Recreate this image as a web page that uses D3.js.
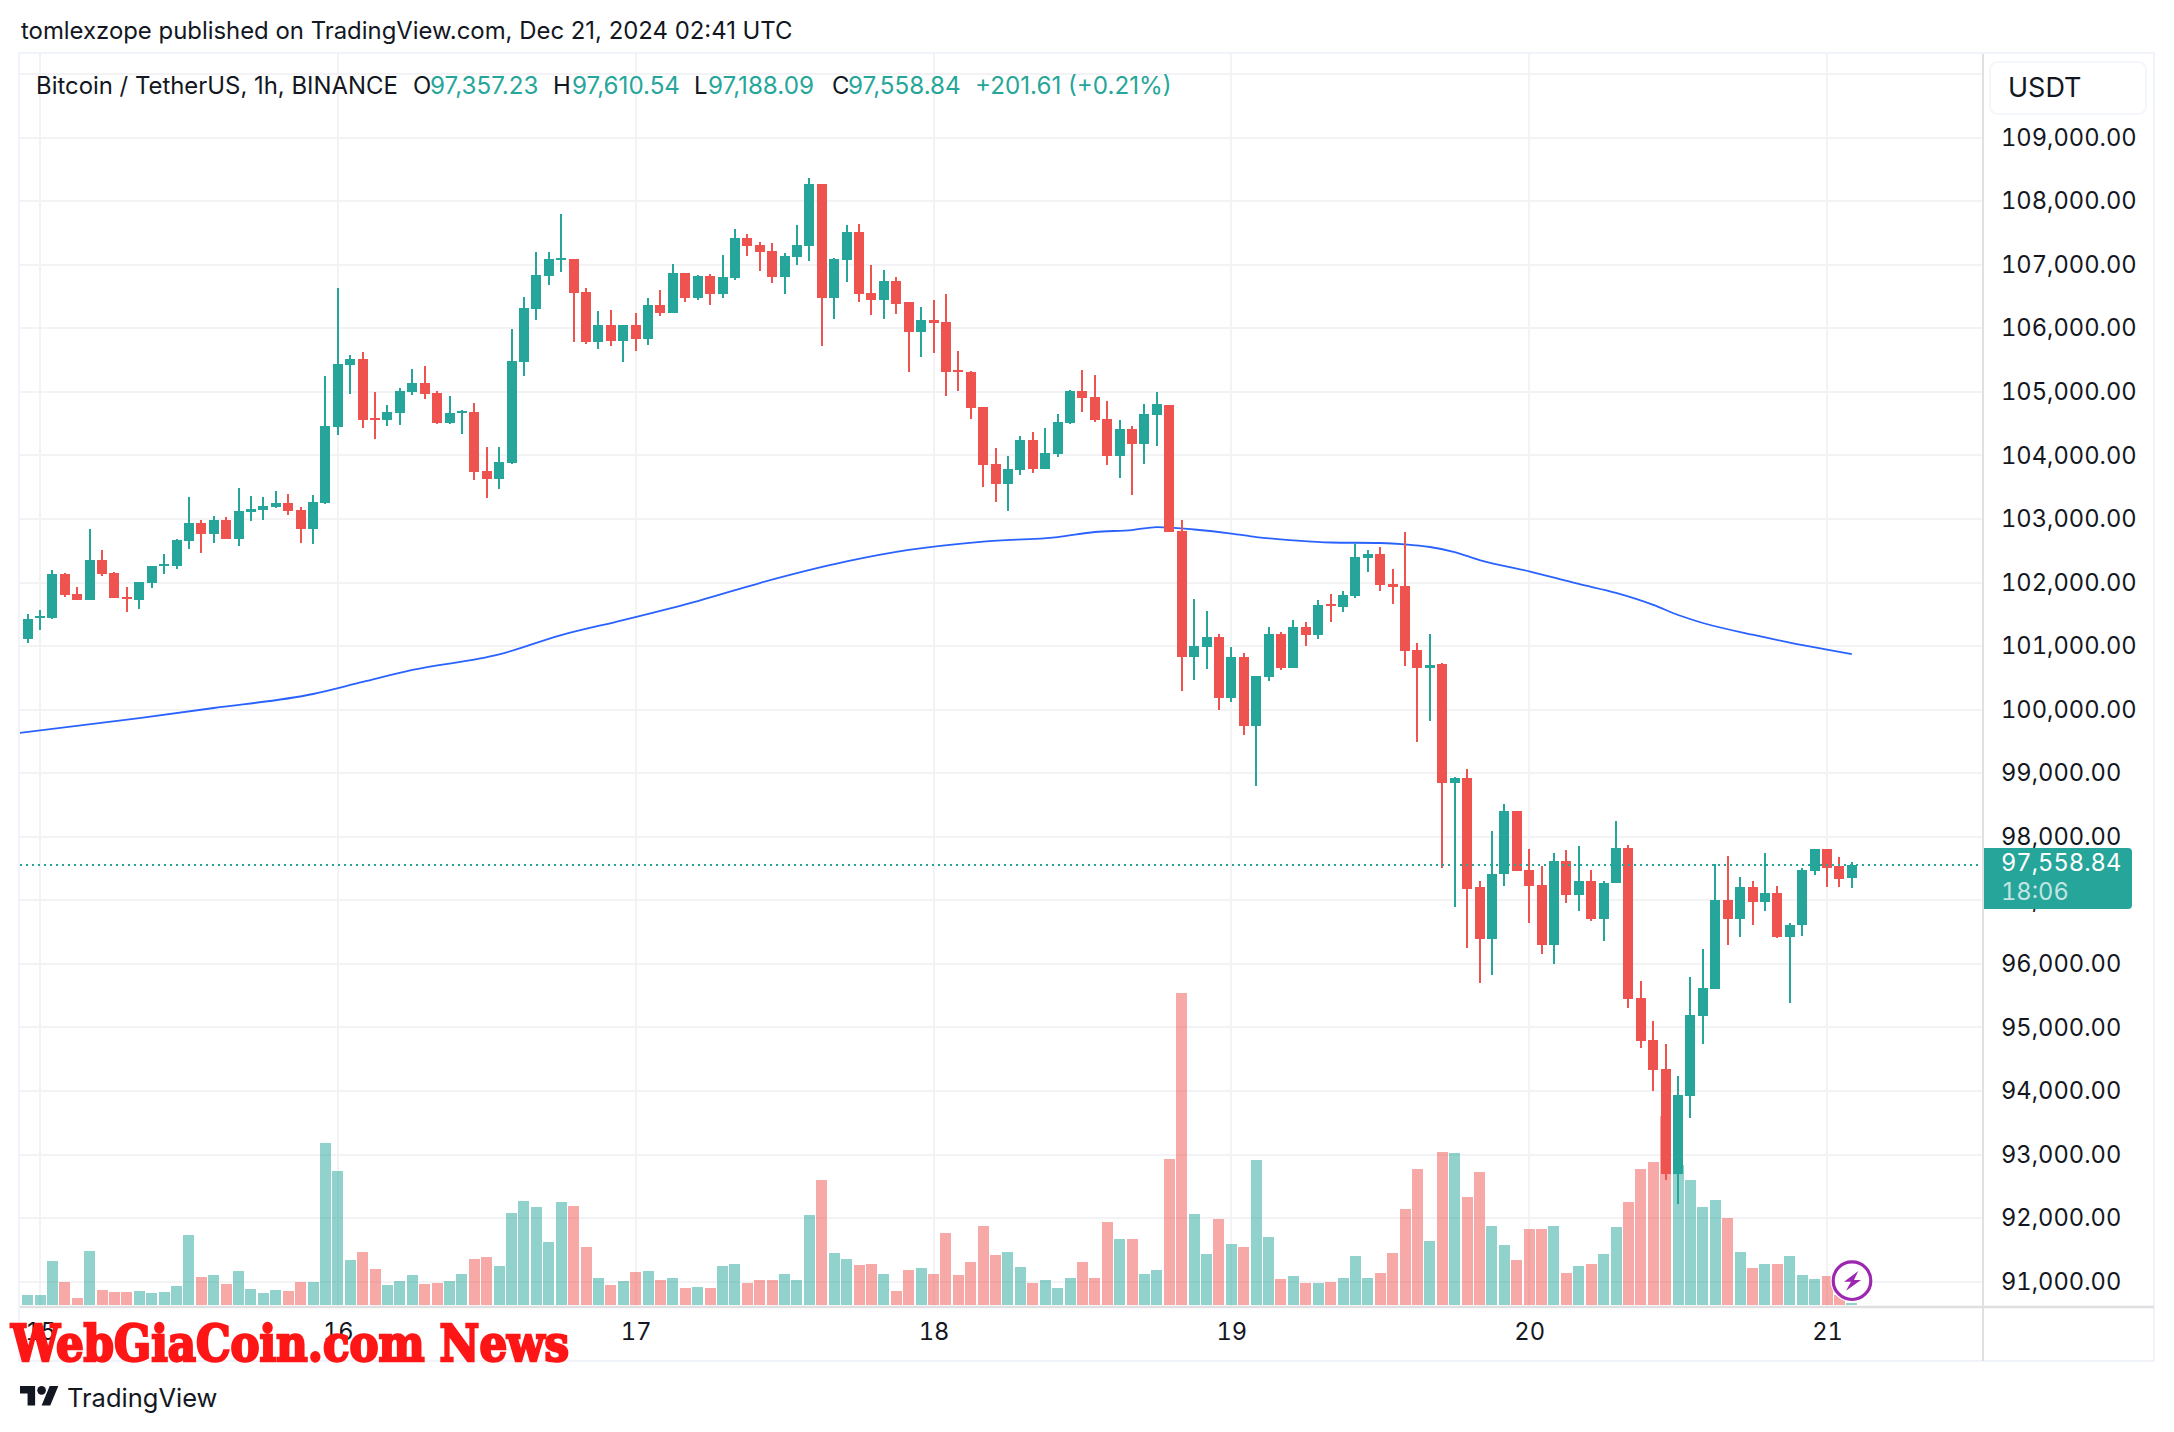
<!DOCTYPE html>
<html>
<head>
<meta charset="utf-8">
<title>Bitcoin / TetherUS, 1h, BINANCE</title>
<script src="https://cdn.jsdelivr.net/npm/d3@7"></script>
<style>
    html, body { margin: 0; padding: 0; background: #fff; }
    svg { display: block; }
    text { font-family: Inter, "Noto Sans", sans-serif; fill: #131722; }
    .nums { font-variant-numeric: tabular-nums; }
</style>
</head>
<body>
<svg width="2174" height="1432"></svg>
<script>
// hourly candles, first one is Dec 14 23:00 UTC
var opens = [
    101109,101437,101437,102141,101828,101719,102359,102156,101781,101719,102000,102266,
    102266,102656,102938,102766,102985,102688,103110,103141,103188,103250,103141,102844,
    103252,104451,105429,105523,104593,104561,104672,105003,105145,104987,104514,104672,
    104688,103757,103631,103883,105476,106312,106817,107069,107085,106580,105792,106060,
    105807,106060,105839,106375,106249,106864,106485,106817,106533,106785,107416,107305,
    107211,106801,107116,107290,108268,106470,107069,107511,106549,106454,106738,106407,
    105949,106138,106107,105350,105318,104764,103868,103554,103774,104245,103790,104025,
    104513,105016,104921,104576,103994,104418,104183,104638,104796,102815,100834,100991,
    101149,100190,100834,99750,100520,101196,100661,101306,101180,101667,101620,101793,
    102390,102453,101982,101950,100944,100661,100712,98842,98933,97204,96395,97408,
    98399,97471,97246,96304,97626,97091,97309,96712,97267,97830,95467,94807,
    94350,92698,93928,95186,95608,97000,96712,97204,96979,97120,96431,96606,
    97457,97801,97534,97357.23
];
var highs = [
    101500,101562,102203,102156,101937,102844,102516,102172,101937,102016,102266,102453,
    102688,103344,102985,103047,103031,103485,103360,103344,103438,103391,103188,103375,
    105255,106643,105586,105634,105003,104798,105066,105366,105413,105019,104940,104719,
    104829,104136,104136,105996,106501,107195,107195,107794,107085,106643,106280,106296,
    106060,106249,106470,106596,107006,106864,106832,106848,107148,107558,107479,107353,
    107337,107179,107621,108362,108268,107100,107621,107637,106990,106911,106801,106422,
    106344,106454,106533,105650,105334,104764,104120,103994,104308,104371,104434,104654,
    105031,105346,105267,104859,104560,104466,104811,105000,104796,102988,101746,101557,
    101196,100991,100897,100536,101306,101227,101416,101384,101730,101825,101872,102626,
    102516,102563,102218,102799,101054,101196,100740,98947,99060,97309,98097,98511,
    98399,97815,97548,97738,97787,97851,97485,97309,98244,97865,95735,95109,
    94743,94244,95798,96241,97569,97703,97373,97309,97752,97232,96648,97506,
    97815,97815,97675,97610.54
];
var lows = [
    101047,101250,101422,101781,101719,101719,102109,101750,101531,101578,101922,102141,
    102219,102531,102469,102625,102688,102578,102969,102985,103172,103063,102625,102610,
    103237,104325,104971,104435,104262,104467,104482,104956,104893,104498,104498,104341,
    103615,103331,103473,103867,105255,106138,106690,106880,105792,105760,105681,105728,
    105476,105650,105744,106202,106249,106407,106454,106375,106485,106754,107132,106895,
    106706,106533,106990,107053,105728,106154,106722,106407,106217,106154,106233,105318,
    105555,105618,104940,105019,104577,103507,103271,103129,103695,103727,103790,103978,
    104497,104686,104528,103852,103648,103381,103868,104151,102799,100300,100473,100646,
    100001,100127,99608,98806,100457,100630,100661,101007,101117,101384,101542,101762,
    102170,101872,101667,100693,99498,99828,97506,96902,96255,95706,95833,97232,
    97457,96648,96163,96002,96965,96838,96670,96367,97267,95299,94680,94005,
    92606,92227,93576,94743,95608,96304,96431,96606,96838,96409,95390,96445,
    97394,97218,97204,97188.09
];
var closes = [
    101422,101469,102141,101812,101719,102359,102141,101750,101750,102016,102266,102297,
    102672,102938,102766,102985,102688,103125,103157,103204,103250,103125,102844,103266,
    104467,105444,105523,104561,104561,104688,105019,105145,104971,104514,104672,104703,
    103741,103631,103899,105492,106328,106832,107085,107100,106564,105792,106060,105807,
    106060,105839,106375,106249,106864,106485,106817,106533,106801,107416,107290,107195,
    106801,107132,107305,108268,106470,107085,107511,106533,106454,106738,106391,105949,
    106138,106091,105318,105318,104751,103852,103554,103790,104245,103790,104041,104528,
    105016,104906,104560,103994,104418,104183,104654,104811,102799,100834,101007,101149,
    100190,100834,99750,100536,101196,100661,101306,101180,101652,101636,101809,102406,
    102453,101966,101935,100929,100661,100708,98842,98933,97183,96395,97422,98399,
    97457,97232,96304,97626,97091,97309,96712,97281,97830,95453,94793,94336,
    92698,93942,95200,95629,97000,96712,97204,96979,97120,96431,96620,97471,
    97801,97513,97344,97558.84
];
var volumes = [
    300,300,1320,690,210,1620,450,390,390,420,360,390,
    570,2100,840,900,630,1020,480,360,450,420,690,690,
    4860,4020,1350,1590,1080,600,720,900,630,660,720,930,
    1380,1440,1170,2760,3120,2940,1890,3090,2970,1740,810,600,
    720,990,1020,750,810,510,540,510,1170,1230,660,750,
    750,930,750,2700,3750,1560,1380,1200,1230,930,420,1050,
    1110,930,2160,900,1290,2370,1500,1590,1140,660,750,510,
    810,1290,810,2490,1980,1980,930,1050,4380,9360,2730,1530,
    2580,1830,1740,4350,2040,780,870,660,660,690,810,1470,
    810,960,1560,2880,4080,1920,4590,4560,3240,3990,2370,1800,
    1350,2280,2280,2370,960,1170,1230,1530,2340,3090,4080,4290,
    5670,4200,3750,2940,3150,2610,1590,1110,1230,1230,1470,900,
    780,870,300,60
];

var maHours = [-2,8,14,22,26,30,37,42,47,53,58,65,70,76,82,85,88,90,93,96,98,101,104,108,110,112,114,116,120,124,127,130,132,134,138,141,144,146];
var maValues = [99625,99869,100027,100247,100436,100625,100870,101175,101411,101710,101993,102332,102513,102646,102717,102796,102827,102874,102835,102772,102717,102665,102631,102623,102602,102560,102481,102355,102177,101978,101839,101650,101490,101364,101180,101057,100947,100876];

var priceTicks = [91000,92000,93000,94000,95000,96000,97000,98000,99000,100000,101000,102000,103000,104000,105000,106000,107000,108000,109000];
var gridPrices = priceTicks.concat([110000]);
var dayTicks = [15,16,17,18,19,20,21];
var lastPrice = 97558.84;

var green = "#26a69a", red = "#ef5350";

var svg = d3.select("svg"),
    plot = {left: 20, right: 1983, top: 54, bottom: 1306},
    edge = 2154,
    foot = 1361;

var firstCandle = Date.UTC(2024, 11, 14, 23);
var times = opens.map(function(d, i) { return new Date(firstCandle + i * 3600000); });
var days = dayTicks.map(function(d) { return new Date(Date.UTC(2024, 11, d)); });

var x = d3.scaleUtc()
    .domain([days[0], days[days.length - 1]])
    .range([40, 1827]);

var y = d3.scaleLinear()
    .domain([91000, 109000])
    .range([1281.7, 137.7]);

var v = d3.scaleLinear()
    .domain([0, 9360])
    .range([1305, 993]);

svg.append("defs").append("clipPath")
    .attr("id", "plot")
    .append("rect")
    .attr("x", plot.left).attr("y", plot.top)
    .attr("width", plot.right - plot.left).attr("height", plot.bottom - plot.top);

// grid
svg.append("g").selectAll("line")
    .data(gridPrices)
    .join("line")
    .attr("x1", plot.left).attr("x2", plot.right)
    .attr("y1", function(d) { return Math.round(y(d)); })
    .attr("y2", function(d) { return Math.round(y(d)); })
    .attr("stroke", "#f3f3f5").attr("stroke-width", 2);

svg.append("g").selectAll("line")
    .data(days)
    .join("line")
    .attr("x1", function(d) { return Math.round(x(d)); })
    .attr("x2", function(d) { return Math.round(x(d)); })
    .attr("y1", plot.top).attr("y2", plot.bottom)
    .attr("stroke", "#f3f3f5").attr("stroke-width", 2);

// frame
svg.append("rect")
    .attr("x", plot.left - 1).attr("y", plot.top - 1)
    .attr("width", edge - plot.left + 1).attr("height", foot - plot.top + 1)
    .attr("fill", "none")
    .attr("stroke", "#f0f3fa").attr("stroke-width", 2);

var chart = svg.append("g").attr("clip-path", "url(#plot)");

// volume
chart.append("g").selectAll("rect")
    .data(volumes)
    .join("rect")
    .attr("x", function(d, i) { return Math.round(x(times[i]) - 5.5); })
    .attr("width", 11)
    .attr("y", function(d) { return v(d); })
    .attr("height", function(d) { return v(0) - v(d); })
    .attr("fill", function(d, i) { return closes[i] >= opens[i] ? green : red; })
    .attr("fill-opacity", 0.5);

// moving average
var ma = d3.line()
    .x(function(d, i) { return x(new Date(days[0].getTime() + maHours[i] * 3600000)); })
    .y(function(d) { return y(d); })
    .curve(d3.curveMonotoneX);

chart.append("path")
    .datum(maValues)
    .attr("fill", "none")
    .attr("stroke", "#2962ff")
    .attr("stroke-width", 1.8)
    .attr("d", ma);

// last price
svg.append("line")
    .attr("x1", plot.left).attr("x2", plot.right)
    .attr("y1", Math.round(y(lastPrice))).attr("y2", Math.round(y(lastPrice)))
    .attr("stroke", green)
    .attr("stroke-width", 2)
    .attr("stroke-dasharray", "2,4");

// candles
var candles = chart.append("g").attr("shape-rendering", "crispEdges");

candles.selectAll(".wick")
    .data(opens)
    .join("rect")
    .attr("class", "wick")
    .attr("x", function(d, i) { return Math.round(x(times[i])) - 1; })
    .attr("width", 2)
    .attr("y", function(d, i) { return y(highs[i]); })
    .attr("height", function(d, i) { return y(lows[i]) - y(highs[i]); })
    .attr("fill", function(d, i) { return closes[i] >= opens[i] ? green : red; });

candles.selectAll(".body")
    .data(opens)
    .join("rect")
    .attr("class", "body")
    .attr("x", function(d, i) { return Math.round(x(times[i])) - 5; })
    .attr("width", 10)
    .attr("y", function(d, i) { return y(Math.max(d, closes[i])); })
    .attr("height", function(d, i) { return Math.max(2, Math.abs(y(d) - y(closes[i]))); })
    .attr("fill", function(d, i) { return closes[i] >= d ? green : red; });

// axis lines
svg.append("line")
    .attr("x1", plot.left).attr("x2", edge)
    .attr("y1", 1307).attr("y2", 1307)
    .attr("stroke", "#e0e0e2").attr("stroke-width", 2.5);
svg.append("line")
    .attr("x1", plot.right).attr("x2", plot.right)
    .attr("y1", plot.top).attr("y2", foot)
    .attr("stroke", "#e0e0e2").attr("stroke-width", 2);

// price axis
var priceAxis = svg.append("g")
    .attr("transform", "translate(" + plot.right + ",0)")
    .call(d3.axisRight(y).tickValues(priceTicks).tickSize(0).tickPadding(18).tickFormat(d3.format(",.2f")));
priceAxis.select(".domain").remove();
priceAxis.selectAll("text")
    .attr("class", "nums")
    .style("font-family", "Inter")
    .attr("font-size", 23.7)
    .attr("fill", "#131722");

// time axis
var timeAxis = svg.append("g")
    .attr("transform", "translate(0,1307)")
    .call(d3.axisBottom(x).tickValues(days).tickSize(0).tickPadding(16).tickFormat(d3.utcFormat("%-d")));
timeAxis.select(".domain").remove();
timeAxis.selectAll("text")
    .attr("class", "nums")
    .style("font-family", "Inter")
    .attr("font-size", 23.7)
    .attr("fill", "#131722");

// currency button
svg.append("rect")
    .attr("x", 1990).attr("y", 62).attr("width", 156).attr("height", 52).attr("rx", 8)
    .attr("fill", "#fff").attr("stroke", "#f0f3fa").attr("stroke-width", 1.5);
svg.append("text").attr("x", 2008).attr("y", 97).attr("font-size", 27).text("USDT");

// last price tag
var tagTop = 848, tagBottom = 909, tagRight = 2132, r = 4;
svg.append("path")
    .attr("d", "M" + (plot.right + 1) + "," + tagTop + "H" + (tagRight - r) + "q" + r + ",0 " + r + "," + r +
        "V" + (tagBottom - r) + "q0," + r + " -" + r + "," + r + "H" + (plot.right + 1) + "Z")
    .attr("fill", "#26a69a");
svg.append("text").attr("class", "nums").attr("x", 2001).attr("y", 871).attr("font-size", 23.7)
    .style("fill", "#fff").text(d3.format(",.2f")(lastPrice));
svg.append("text").attr("class", "nums").attr("x", 2001).attr("y", 900).attr("font-size", 23.7)
    .style("fill", "#fff").style("fill-opacity", 0.72).text("18:06");

// header texts
svg.append("text").attr("x", 21).attr("y", 39).attr("font-size", 23.9)
    .text("tomlexzope published on TradingView.com, Dec 21, 2024 02:41 UTC");

svg.append("text").attr("x", 36).attr("y", 94).attr("font-size", 23.9)
    .text("Bitcoin / TetherUS, 1h, BINANCE");

var legendItems = [
    {label: "O", at: 413, value: "97,357.23", valueAt: 430},
    {label: "H", at: 553, value: "97,610.54", valueAt: 572},
    {label: "L", at: 694, value: "97,188.09", valueAt: 708},
    {label: "C", at: 832, value: "97,558.84", valueAt: 848},
    {label: "", at: 0, value: "+201.61 (+0.21%)", valueAt: 975}
];
var legend = svg.append("g");
legendItems.forEach(function(d) {
    legend.append("text").attr("x", d.at).attr("y", 94).attr("font-size", 23.9).text(d.label);
    legend.append("text").attr("x", d.valueAt).attr("y", 94).attr("font-size", 24.2)
        .style("fill", green).text(d.value);
});

// streaming icon at the last bar
var icon = svg.append("g")
    .attr("transform", "translate(" + Math.round(x(times[times.length - 1])) + ",1280.7)");
icon.append("circle").attr("r", 21.5).attr("fill", "#fff");
icon.append("circle").attr("r", 18.8).attr("fill", "#fff")
    .attr("stroke", "#9c27b0").attr("stroke-width", 3.2);
icon.append("path")
    .attr("d", "M6.3,-9.7L-8,1H-1L-6,10L9,-0.7H2Z")
    .attr("fill", "#9c27b0");

// watermark
svg.append("text")
    .attr("x", 11).attr("y", 1361)
    .attr("textLength", 558).attr("lengthAdjust", "spacingAndGlyphs")
    .style("font-family", "'DejaVu Serif Condensed', 'DejaVu Serif', serif")
    .style("font-weight", "bold")
    .style("font-stretch", "condensed")
    .style("fill", "#fe1616")
    .style("stroke", "#fe1616")
    .style("stroke-width", 2.4)
    .attr("font-size", 51)
    .text("WebGiaCoin.com News");

// logo
var logo = svg.append("g").attr("transform", "translate(20,1381.7) scale(1.08)");
logo.append("path")
    .attr("d", "M14 22H7V11H0V4h14v18zM28 22h-8l7.5-18h8L28 22z")
    .attr("fill", "#131722");
logo.append("circle").attr("cx", 20).attr("cy", 8).attr("r", 4).attr("fill", "#131722");
svg.append("text").attr("x", 67).attr("y", 1407).attr("font-size", 25.5).text("TradingView");
</script>
</body>
</html>
